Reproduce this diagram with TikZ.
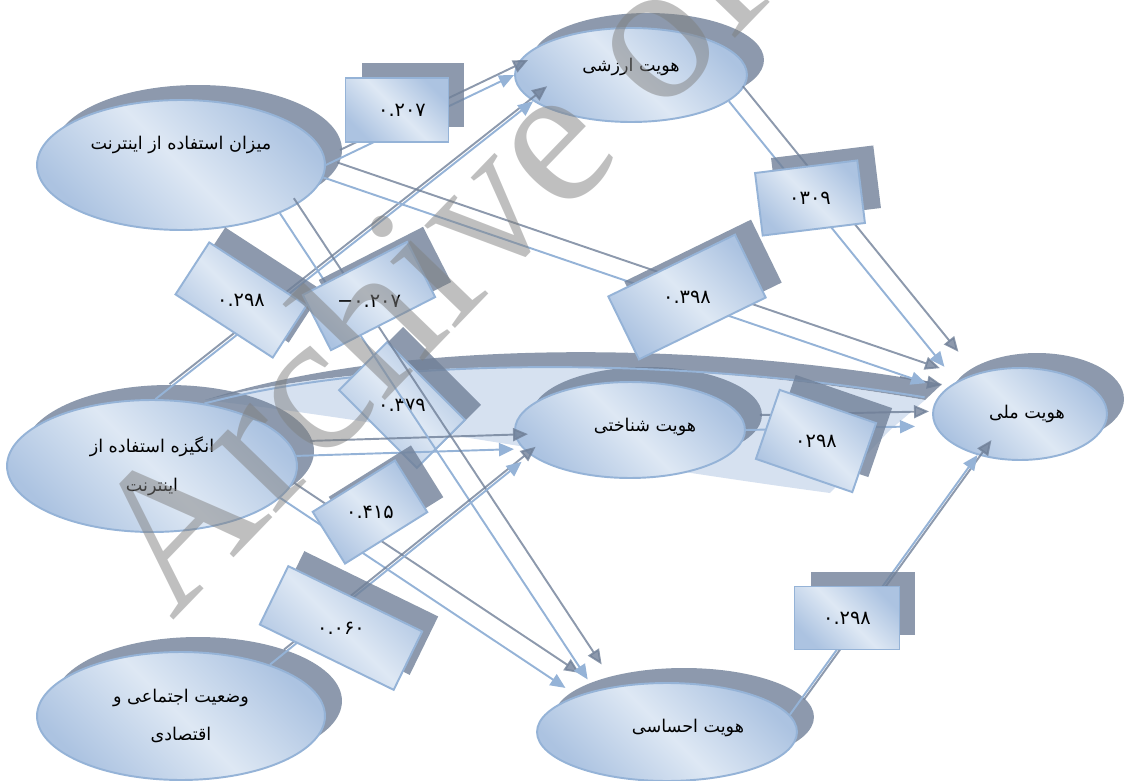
\documentclass[tikz,border=0pt]{standalone}
\usepackage{fontspec}
\usetikzlibrary{shapes.geometric,shadows,arrows.meta}
\TeXXeTstate=1
\newfontfamily\fafont[Script=Arabic]{DejaVu Sans}
\newfontfamily\wmfont{Liberation Serif}

\definecolor{edgeblue}{RGB}{149,179,215}
\definecolor{lightfill}{RGB}{222,232,244}
\definecolor{darkfill}{RGB}{172,195,225}
\definecolor{shadowgray}{RGB}{112,128,152}
\definecolor{bandfill}{RGB}{196,212,234}

\begin{document}
\begin{tikzpicture}[x=0.02cm,y=-0.02cm]
\tikzset{
varnode/.style={ellipse, draw=edgeblue, line width=1.1pt, inner sep=0pt,
  left color=darkfill, right color=darkfill, middle color=lightfill, shading angle=135,
  drop shadow={shadow xshift=0.34cm, shadow yshift=0.3cm, fill=shadowgray, opacity=0.8}},
vartext/.style={font=\fafont\fontsize{10}{22}\selectfont, align=center, inner sep=0pt},
coefbox/.style={rectangle, draw=edgeblue, line width=1.1pt, inner sep=0pt,
  left color=darkfill, right color=darkfill, middle color=lightfill, shading angle=135,
  drop shadow={shadow xshift=0.32cm, shadow yshift=0.3cm, fill=shadowgray, opacity=0.8}},
coeftext/.style={font=\fafont\fontsize{11}{12}\selectfont, inner sep=0pt},
link/.style={draw=edgeblue, line width=1.1pt, -{Triangle[length=0.3cm,width=0.26cm]}},
linkshadow/.style={draw=shadowgray, opacity=0.8, line width=1.1pt,
  -{Triangle[length=0.3cm,width=0.26cm]}, transform canvas={xshift=0.28cm,yshift=0.3cm}},
wmark/.style={font=\wmfont\fontsize{115}{115}\selectfont, text=black!50, opacity=0.5, inner sep=0pt},
}
\useasboundingbox (0,0) rectangle (1130,781);
\clip (0,0) rectangle (1130,781);

% big curved arrow, motive -> national identity
\fill[shadowgray, opacity=0.8] (205,400) .. controls (410,335) and (717,343) .. (942,384)
  -- (925,400) .. controls (700,360) and (400,352) .. (205,400) -- cycle;
\fill[bandfill, opacity=0.7] (205,400) .. controls (400,352) and (700,360) .. (925,400)
  -- (890,430) -- (830,493) .. controls (600,462) and (380,420) .. (205,400) -- cycle;

% variables
\node[varnode, minimum width=5.76cm, minimum height=2.6cm] (usage) at (181,165) {};
\node[varnode, minimum width=4.64cm, minimum height=1.88cm] (valueid) at (631,75) {};
\node[varnode, minimum width=5.8cm, minimum height=2.64cm] (motive) at (152,466) {};
\node[varnode, minimum width=4.6cm, minimum height=1.92cm] (cogid) at (630,430) {};
\node[varnode, minimum width=3.48cm, minimum height=1.84cm] (natid) at (1020,414) {};
\node[varnode, minimum width=5.76cm, minimum height=2.56cm] (status) at (181,716) {};
\node[varnode, minimum width=5.2cm, minimum height=1.96cm] (emoid) at (667,732) {};

\node[vartext] (usagetext) at ([yshift=0.4cm]usage.center) {\beginR میزان استفاده از اینترنت\endR};
\node[vartext] (valuetext) at ([yshift=0.16cm]valueid.center) {\beginR هویت ارزشی\endR};
\node[vartext] (motivetext) at (motive.center) {\beginR انگیزه استفاده از\endR\\\beginR اینترنت\endR};
\node[vartext] (cogtext) at ([xshift=0.3cm,yshift=0.06cm]cogid.center) {\beginR هویت شناختی\endR};
\node[vartext] (nattext) at ([xshift=0.14cm]natid.center) {\beginR هویت ملی\endR};
\node[vartext] (statustext) at (status.center) {\beginR وضعیت اجتماعی و\endR\\\beginR اقتصادی\endR};
\node[vartext] (emotext) at ([xshift=0.42cm,yshift=0.08cm]emoid.center) {\beginR هویت احساسی\endR};

\draw[edgeblue, line width=1.1pt, shorten >=0.24cm] (motive.50) .. controls (400,352) and (700,360) .. (natid.170);
\draw[shadowgray, opacity=0.8, line width=1.1pt, -{Triangle[length=0.3cm,width=0.26cm]}] (900,377) -- (942,385);

% coefficient box under the paths
\node[coefbox, rotate=-45, minimum width=2.2cm, minimum height=1.36cm] (c379) at (402,405) {};
\node[coeftext] (t379) at (c379) {۰.۳۷۹};

% paths
\draw[linkshadow] (usage.east) -- (valueid.west);
\draw[link] (usage.east) -- (valueid.west);
\draw[linkshadow] (motive.87) -- (valueid.195);
\draw[link] (motive.87) -- (valueid.195);
\draw[linkshadow, shorten >=0.4cm] (usage.-5) -- (natid.162);
\draw[link, shorten >=0.4cm] (usage.-5) -- (natid.162);
\draw[linkshadow, shorten >=0.38cm] (valueid.-15) -- (natid.153);
\draw[link, shorten >=0.38cm] (valueid.-15) -- (natid.153);
\draw[linkshadow, shorten >=0.4cm] (cogid.east) -- (natid.188);
\draw[link, shorten >=0.4cm] (cogid.east) -- (natid.188);
\draw[linkshadow, shorten >=0.18cm] (motive.4) -- (cogid.190);
\draw[link, shorten >=0.18cm] (motive.4) -- (cogid.190);
\draw[linkshadow, shorten >=0.28cm] (motive.-14) -- (emoid.158);
\draw[link, shorten >=0.28cm] (motive.-14) -- (emoid.158);
\draw[linkshadow, shorten >=0.26cm] (usage.-26) -- (emoid.150);
\draw[link, shorten >=0.26cm] (usage.-26) -- (emoid.150);
\draw[linkshadow, shorten >=0.22cm] (status.30) -- (cogid.194);
\draw[link, shorten >=0.22cm] (status.30) -- (cogid.194);
\draw[linkshadow] (emoid.8) -- (natid.224);
\draw[link] (emoid.8) -- (natid.224);

% coefficients
\node[coefbox, minimum width=2.06cm, minimum height=1.28cm] (c207) at (397,110) {};
\node[coeftext] (t207) at ([xshift=0.1cm]c207.center) {۰.۲۰۷};
\node[coefbox, rotate=-33, minimum width=2.32cm, minimum height=1.24cm] (c298a) at (241,300) {};
\node[coeftext] (t298a) at (c298a) {۰.۲۹۸};
\node[coefbox, rotate=27, minimum width=2.34cm, minimum height=1.24cm] (c207n) at (369,296) {};
\node[coeftext] (t207n) at ([yshift=-0.1cm]c207n.center) {\mbox{−}\mbox{۰.۲۰۷}};
\node[coefbox, rotate=26, minimum width=2.82cm, minimum height=1.4cm] (c398) at (687,297) {};
\node[coeftext] (t398) at (c398) {۰.۳۹۸};
\node[coefbox, rotate=7, minimum width=2.06cm, minimum height=1.26cm] (c309) at (810,198) {};
\node[coeftext] (t309) at (c309) {۰۳۰۹};
\node[coefbox, rotate=32, minimum width=1.94cm, minimum height=1.22cm] (c415) at (370,512) {};
\node[coeftext] (t415) at (c415) {۰.۴۱۵};
\node[coefbox, rotate=-26, minimum width=2.98cm, minimum height=1.3cm] (c060) at (341,628) {};
\node[coeftext] (t060) at (c060) {۰.۰۶۰};
\node[coefbox, minimum width=2.1cm, minimum height=1.26cm] (c298b) at (847,618) {};
\node[coeftext] (t298b) at (c298b) {۰.۲۹۸};
\node[coefbox, rotate=-19, minimum width=2.04cm, minimum height=1.46cm] (c298c) at (816,441) {};
\node[coeftext] (t298c) at (c298c) {۰۲۹۸};

% watermark
\node[wmark, rotate=46, anchor=base west] (wm) at (172,622) {Archive of SID};
\end{tikzpicture}
\end{document}
